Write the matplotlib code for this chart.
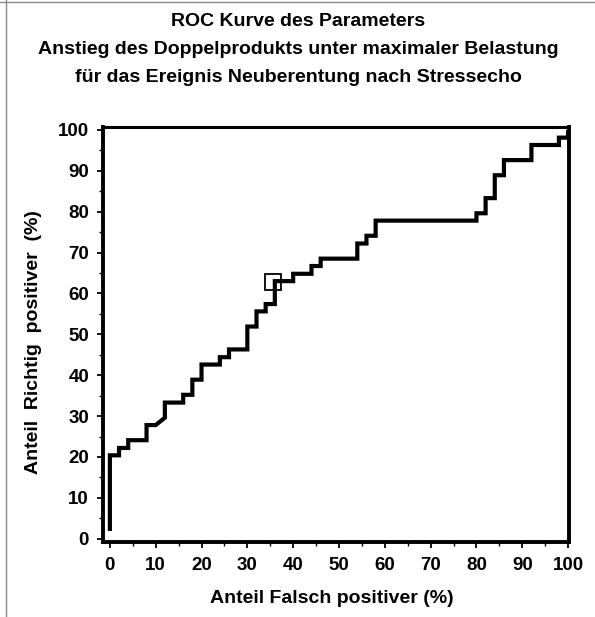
import matplotlib
matplotlib.use("Agg")
from matplotlib import pyplot as plt
from matplotlib import font_manager
from matplotlib.lines import Line2D
from matplotlib.ticker import MultipleLocator

# ROC curve vertices (%)
fpr = [0, 0, 2, 2, 4, 4, 8, 8, 10, 12, 12, 16, 16, 18, 18, 20, 20, 24, 24,
       26, 26, 30, 30, 32, 32, 34, 34, 36, 36, 40, 40, 44, 44, 46, 46, 54,
       54, 56, 56, 58, 58, 80, 80, 82, 82, 84, 84, 86, 86, 92, 92, 98, 98,
       100, 100]
tpr = [1.9, 20.4, 20.4, 22.2, 22.2, 24.1, 24.1, 27.8, 27.8, 29.6, 33.3,
       33.3, 35.2, 35.2, 38.9, 38.9, 42.6, 42.6, 44.4, 44.4, 46.3, 46.3,
       51.9, 51.9, 55.6, 55.6, 57.4, 57.4, 63.0, 63.0, 64.8, 64.8, 66.7,
       66.7, 68.5, 68.5, 72.2, 72.2, 74.1, 74.1, 77.8, 77.8, 79.6, 79.6,
       83.3, 83.3, 88.9, 88.9, 92.6, 92.6, 96.3, 96.3, 98.1, 98.1, 100]

# optimal cut-off point
cut_fpr = [35.7]
cut_tpr = [62.8]

title_lines = [
    "ROC Kurve des Parameters",
    "Anstieg des Doppelprodukts unter maximaler Belastung",
    "für das Ereignis Neuberentung nach Stressecho",
]
xlabel = "Anteil Falsch positiver (%)"
ylabel = "Anteil  Richtig  positiver  (%)"

plt.rcParams["font.family"] = ["Liberation Sans", "DejaVu Sans"]

# condensed face for the tick numbers, if it is there
names = {f.name for f in font_manager.fontManager.ttflist}
if "Liberation Sans Narrow" in names:
    tick_font = ["Liberation Sans Narrow", "DejaVu Sans"]
    tick_size = 15
else:
    tick_font = ["Liberation Sans", "DejaVu Sans"]
    tick_size = 13.5

W, H = 595, 617
fig = plt.figure(figsize=(W / 100, H / 100), dpi=100)
ax = fig.add_axes([103 / W, 75 / H, 466 / W, 415 / H])

ax.plot(fpr, tpr, color="black", lw=3.0, solid_joinstyle="miter",
        solid_capstyle="butt")
ax.plot(cut_fpr, cut_tpr, marker="s", ms=11.5, mfc="none", mec="black",
        mew=1.3, ls="none")

ax.set_xlim(-1.5, 100.2)
ax.set_ylim(-0.8, 100.7)
ax.xaxis.set_major_locator(MultipleLocator(10))
ax.xaxis.set_minor_locator(MultipleLocator(5))
ax.yaxis.set_major_locator(MultipleLocator(10))
ax.yaxis.set_minor_locator(MultipleLocator(5))
ax.tick_params(which="major", direction="out", length=4, width=1.3, pad=7)
ax.tick_params(which="minor", direction="out", length=3, width=1.0)
ax.tick_params(axis="y", pad=6)
for lab in ax.get_xticklabels() + ax.get_yticklabels():
    lab.set_fontweight("bold")
    lab.set_family(tick_font)
    lab.set_fontsize(tick_size)

for side in ["left", "bottom", "right", "top"]:
    ax.spines[side].set_linewidth(2.8)
ax.spines["top"].set_linewidth(2.2)

ax.set_xlabel(xlabel, fontsize=14, fontweight="bold")
ax.set_ylabel(ylabel, fontsize=14, fontweight="bold")
ax.xaxis.set_label_coords(0.49, -0.115)
ax.yaxis.set_label_coords(-0.13, 0.482)

for i, line in enumerate(title_lines):
    fig.text(298 / W, 1 - (22 + 27.5 * i) / H, line, ha="center",
             va="center", fontsize=14, fontweight="bold")

# thin grey frame remnants at top and left edge
fig.add_artist(Line2D([0, 1], [1 - 1.5 / H, 1 - 1.5 / H], color="#888888",
                      lw=1.0, transform=fig.transFigure))
fig.add_artist(Line2D([6 / W, 6 / W], [0, 1], color="#888888", lw=1.0,
                      transform=fig.transFigure))

fig.savefig("out.png", dpi=100)
